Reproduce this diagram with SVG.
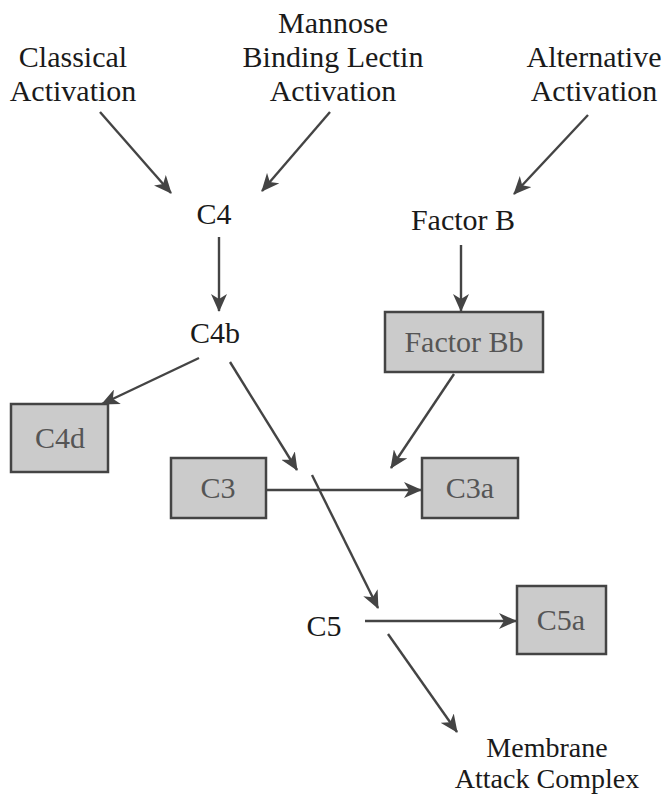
<svg xmlns="http://www.w3.org/2000/svg" width="662" height="794" viewBox="0 0 662 794">
<defs>
<marker id="ah" viewBox="0 0 18 16" refX="17" refY="8" markerWidth="18" markerHeight="16" markerUnits="userSpaceOnUse" orient="auto">
<path d="M0,0 L18,8 L0,16 L5,8 Z" fill="#444"/>
</marker>
<style>
text{font-family:"Liberation Serif","Times New Roman",serif;font-size:30px;fill:#1a1a1a;text-anchor:middle}
.box rect{fill:#cbcbcb;stroke:#444;stroke-width:2.5}
.box text{fill:#555}
#mac text{font-size:28px}
#connectors line{stroke:#444;stroke-width:2.4;marker-end:url(#ah)}
</style>
</defs>
<rect width="662" height="794" fill="#fff"/>
<g id="classical"><text x="73" y="67">Classical</text><text x="73" y="101">Activation</text></g>
<g id="mbl"><text x="333" y="33">Mannose</text><text x="333" y="67">Binding Lectin</text><text x="333" y="101">Activation</text></g>
<g id="alternative"><text x="594" y="67">Alternative</text><text x="594" y="101">Activation</text></g>
<g id="c4"><text x="214" y="224">C4</text></g>
<g id="factorB"><text x="463" y="230">Factor B</text></g>
<g id="c4b"><text x="215" y="343">C4b</text></g>
<g id="factorBb" class="box"><rect x="385" y="312" width="158" height="60"/><text x="464" y="352">Factor Bb</text></g>
<g id="c4d" class="box"><rect x="11" y="404" width="97" height="68"/><text x="60" y="448">C4d</text></g>
<g id="c3" class="box"><rect x="171" y="458" width="95" height="60"/><text x="218" y="498">C3</text></g>
<g id="c3a" class="box"><rect x="422" y="458" width="96" height="60"/><text x="470" y="498">C3a</text></g>
<g id="c5"><text x="324" y="636">C5</text></g>
<g id="c5a" class="box"><rect x="517" y="586" width="89" height="68"/><text x="561" y="630">C5a</text></g>
<g id="mac"><text x="547" y="757">Membrane</text><text x="547" y="788">Attack Complex</text></g>
<g id="connectors">
<line x1="100" y1="112" x2="171" y2="193"/>
<line x1="330" y1="112" x2="262" y2="191"/>
<line x1="588" y1="115" x2="514" y2="194"/>
<line x1="219" y1="237" x2="219" y2="311"/>
<line x1="461" y1="245" x2="461" y2="311"/>
<line x1="199" y1="358" x2="102" y2="404"/>
<line x1="230" y1="362" x2="297" y2="470"/>
<line x1="454" y1="374" x2="391" y2="468"/>
<line x1="266" y1="490" x2="421" y2="490"/>
<line x1="312" y1="475" x2="378" y2="608"/>
<line x1="365" y1="621" x2="516" y2="621"/>
<line x1="388" y1="634" x2="457" y2="732"/>
</g>
</svg>
